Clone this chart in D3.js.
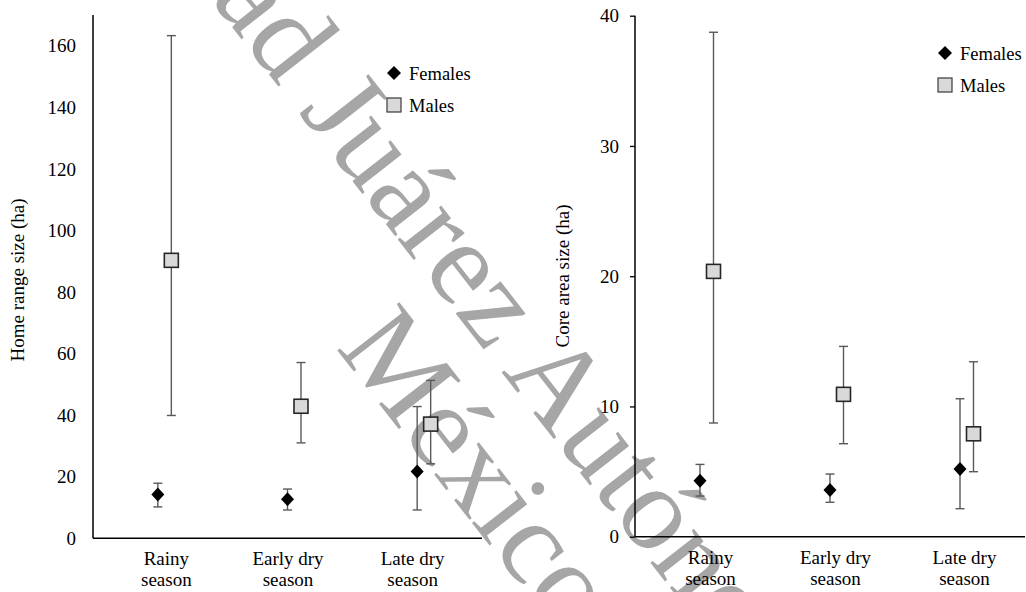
<!DOCTYPE html>
<html>
<head>
<meta charset="utf-8">
<script src="https://cdn.jsdelivr.net/npm/d3@7"></script>
<style>
  html, body { margin: 0; padding: 0; background: #fff; }
  svg { display: block; }
  svg text { font-family: "Liberation Serif", "Times New Roman", Times, "DejaVu Serif", serif !important; fill: #000; }
  svg text.wm { fill: #a6a6a6; }
</style>
</head>
<body>
<svg id="chart" width="1026" height="592"></svg>
<script>
// Seasons on the x axis (wrapped into two lines each)
const seasons = ["Rainy season", "Early dry season", "Late dry season"];
const seasonLines = [["Rainy", "season"], ["Early dry", "season"], ["Late dry", "season"]];

// Home range size (ha): means with lower / upper error limits
const homeFemales     = [14.2, 12.7, 21.7];
const homeFemalesLow  = [10.2, 9.2, 9.2];
const homeFemalesHigh = [17.9, 16.0, 42.8];
const homeMales       = [90.3, 42.9, 37.1];
const homeMalesLow    = [39.9, 31.0, 24.2];
const homeMalesHigh   = [163.3, 57.1, 51.3];

// Core area size (ha): means with lower / upper error limits
const coreFemales     = [4.30, 3.58, 5.20];
const coreFemalesLow  = [3.12, 2.64, 2.15];
const coreFemalesHigh = [5.55, 4.81, 10.59];
const coreMales       = [20.37, 10.93, 7.90];
const coreMalesLow    = [8.73, 7.14, 4.99];
const coreMalesHigh   = [38.73, 14.61, 13.43];

// Axis ticks
const homeTicks = [0, 20, 40, 60, 80, 100, 120, 140, 160];
const coreTicks = [0, 10, 20, 30, 40];

const seriesNames = ["Females", "Males"];

const SERIF = "'Liberation Serif', 'Times New Roman', Times, 'DejaVu Serif', serif";
const svg = d3.select("#chart");

// Background watermark lettering
const wm = svg.append("g")
  .attr("transform", "translate(283,47) rotate(52)")
  .attr("font-family", SERIF)
  .attr("font-size", 120);
wm.append("text").attr("class", "wm").attr("x", 30).attr("y", 28).attr("text-anchor", "end")
  .text("Universidad");
wm.append("text").attr("class", "wm").attr("x", 60).attr("y", 28)
  .text("Juárez Autónoma de Tabasco");
wm.append("text").attr("class", "wm").attr("x", 269).attr("y", 144)
  .text("México");

const diamond = (cx, cy, w, h) =>
  `M${cx},${cy - h}L${cx + w},${cy}L${cx},${cy + h}L${cx - w},${cy}Z`;

function panel(cfg) {
  const g = svg.append("g");
  const x = d3.scalePoint().domain(seasons).range([cfg.x0, cfg.x1]).padding(0.5);
  const y = d3.scaleLinear().domain(cfg.domain).range([cfg.yBottom, cfg.yTop]);
  const maleShift = 13.5;

  // y axis
  const ya = g.append("g").attr("transform", `translate(${cfg.x0},0)`)
    .call(d3.axisLeft(y).tickValues(cfg.ticks).tickSize(cfg.tickLen).tickPadding(cfg.tickPad).tickSizeOuter(0));
  ya.attr("font-family", SERIF).attr("font-size", 19);
  ya.select(".domain").attr("stroke", "#000").attr("stroke-width", 1.5)
    .attr("d", `M0,${cfg.yTop}V${y(0)}`);
  ya.selectAll(".tick line").attr("stroke", "#000").attr("stroke-width", 1.3);
  ya.selectAll(".tick text").attr("fill", "#000");

  // x axis
  const xa = g.append("g").attr("transform", `translate(0,${y(0)})`)
    .call(d3.axisBottom(x).tickSize(0).tickSizeOuter(0).tickFormat(""));
  xa.attr("font-family", SERIF).attr("font-size", 19);
  xa.select(".domain").attr("stroke", "#000").attr("stroke-width", 1.5)
    .attr("d", `M${cfg.x0},0H${cfg.x1}`);
  xa.selectAll(".tick").each(function(d, i) {
    const t = d3.select(this).select("text")
      .attr("y", 0).attr("dy", null)
      .attr("x", cfg.labelShift[i])
      .attr("fill", "#000");
    seasonLines[i].forEach((line, k) => {
      t.append("tspan").attr("x", cfg.labelShift[i]).attr("y", 27 + k * 21).text(line);
    });
  });

  // y axis title
  g.append("text")
    .attr("transform", `translate(${cfg.titleX},${cfg.titleY}) rotate(-90)`)
    .attr("text-anchor", "middle")
    .attr("font-size", 19)
    .text(cfg.title);

  // error bars
  const bars = [];
  seasons.forEach((s, i) => {
    bars.push({ cx: x(s), lo: cfg.fLow[i], hi: cfg.fHigh[i] });
    bars.push({ cx: x(s) + maleShift, lo: cfg.mLow[i], hi: cfg.mHigh[i] });
  });
  const eb = g.append("g").attr("stroke", "#595959").attr("stroke-width", 1.4).attr("fill", "none");
  bars.forEach(b => {
    eb.append("line").attr("x1", b.cx).attr("x2", b.cx).attr("y1", y(b.lo)).attr("y2", y(b.hi));
    eb.append("line").attr("x1", b.cx - 4.5).attr("x2", b.cx + 4.5).attr("y1", y(b.lo)).attr("y2", y(b.lo));
    eb.append("line").attr("x1", b.cx - 4.5).attr("x2", b.cx + 4.5).attr("y1", y(b.hi)).attr("y2", y(b.hi));
  });

  // female means (diamonds)
  g.selectAll("path.female").data(cfg.f).enter().append("path")
    .attr("class", "female")
    .attr("d", (v, i) => diamond(x(seasons[i]), y(v), 6.5, 7))
    .attr("fill", "#000");

  // male means (squares)
  g.selectAll("rect.male").data(cfg.m).enter().append("rect")
    .attr("class", "male")
    .attr("x", (v, i) => x(seasons[i]) + maleShift - 7)
    .attr("y", v => y(v) - 7)
    .attr("width", 14).attr("height", 14)
    .attr("fill", "#d9d9d9").attr("stroke", "#262626").attr("stroke-width", 1.6);

  // legend
  const lg = g.append("g").attr("transform", `translate(${cfg.legX},${cfg.legY})`)
    .attr("font-size", 18.5);
  lg.append("path").attr("d", diamond(0, 0, 7, 7)).attr("fill", "#000");
  lg.append("text").attr("x", 15).attr("y", 6.5).text(seriesNames[0]);
  lg.append("rect").attr("x", -7).attr("y", 32 - 7).attr("width", 14).attr("height", 14)
    .attr("fill", "#d9d9d9").attr("stroke", "#3a3a3a").attr("stroke-width", 1.2);
  lg.append("text").attr("x", 15).attr("y", 38.5).text(seriesNames[1]);
}

panel({
  x0: 93, x1: 482, yTop: 15, yBottom: 538.3, domain: [0, 170],
  ticks: homeTicks, tickLen: 0, tickPad: 17,
  labelShift: [8, 0, -5],
  title: "Home range size (ha)", titleX: 24, titleY: 280,
  f: homeFemales, fLow: homeFemalesLow, fHigh: homeFemalesHigh,
  m: homeMales, mLow: homeMalesLow, mHigh: homeMalesHigh,
  legX: 394, legY: 73
});

panel({
  x0: 635, x1: 1025, yTop: 15.7, yBottom: 536.7, domain: [0, 40],
  ticks: coreTicks, tickLen: 5, tickPad: 11,
  labelShift: [10, 5, 4],
  title: "Core area size (ha)", titleX: 569, titleY: 276,
  f: coreFemales, fLow: coreFemalesLow, fHigh: coreFemalesHigh,
  m: coreMales, mLow: coreMalesLow, mHigh: coreMalesHigh,
  legX: 945, legY: 53
});
</script>
</body>
</html>
